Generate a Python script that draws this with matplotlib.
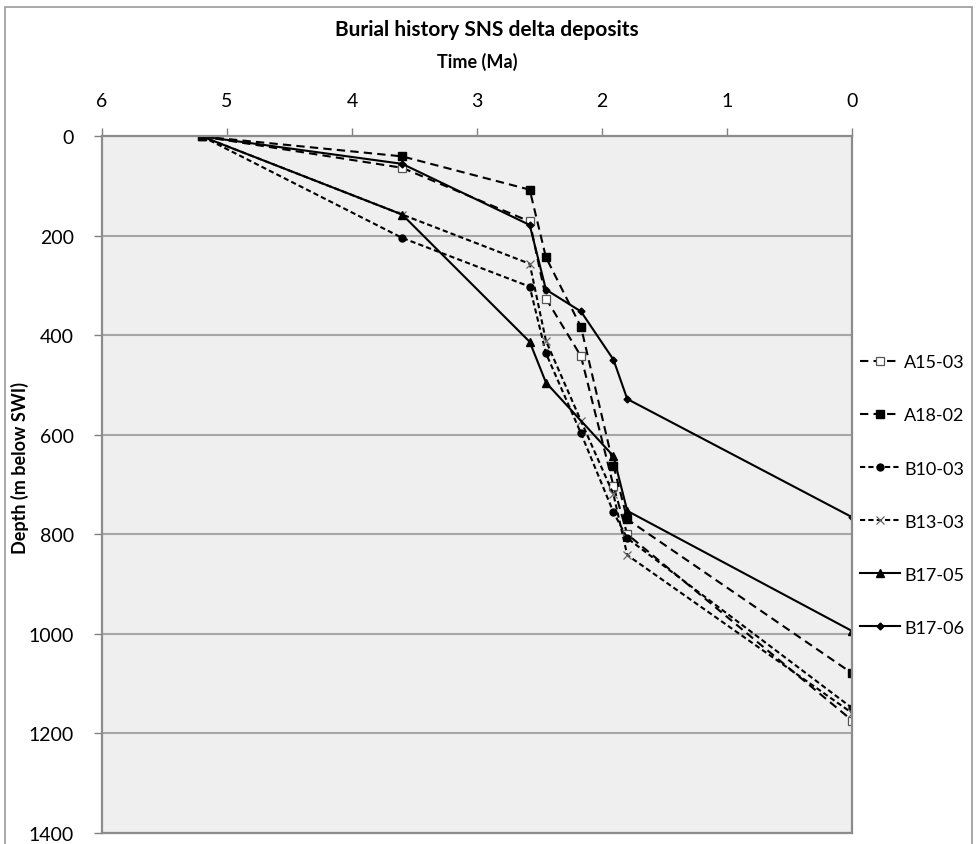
import matplotlib
matplotlib.use("Agg")
import matplotlib.pyplot as plt
from matplotlib.patches import Rectangle

plt.rcParams['font.family'] = ['Lato', 'DejaVu Sans']

# burial curves: age (Ma) vs depth (m below SWI)
a15_age = [5.2, 3.6, 2.58, 2.45, 2.17, 1.91, 1.8, 0.0]
a15_depth = [0, 63, 171, 326, 442, 703, 800, 1175]

a18_age = [5.2, 3.6, 2.58, 2.45, 2.17, 1.91, 1.8, 0.0]
a18_depth = [0, 40, 107, 243, 383, 662, 770, 1080]

b10_age = [5.2, 3.6, 2.58, 2.45, 2.17, 1.91, 1.8, 0.0]
b10_depth = [0, 204, 302, 436, 597, 756, 808, 1150]

b13_age = [5.2, 3.6, 2.58, 2.45, 2.17, 1.91, 1.8, 0.0]
b13_depth = [0, 157, 256, 411, 572, 720, 842, 1160]

b1705_age = [5.2, 3.6, 2.58, 2.45, 1.91, 1.8, 0.0]
b1705_depth = [0, 157, 413, 495, 643, 753, 995]

b1706_age = [5.2, 3.6, 2.58, 2.45, 2.17, 1.91, 1.8, 0.0]
b1706_depth = [0, 55, 178, 308, 352, 449, 528, 766]

fig = plt.figure(figsize=(9.76, 8.45), dpi=100)
ax = fig.add_axes([0.1045, 0.0136, 0.7688, 0.8237])
ax.set_facecolor('#efefef')

long_dash = (0, (4, 2.5))
short_dash = (0, (2.5, 1.5))
lw = 1.5

ax.plot(a15_age, a15_depth, color='black', lw=lw, ls=long_dash, marker='s', ms=5.5,
        mfc='white', mec='#555555', mew=0.9, label='A15-03')
ax.plot(a18_age, a18_depth, color='black', lw=lw, ls=long_dash, marker='s', ms=6,
        mfc='black', mec='black', label='A18-02')
ax.plot(b10_age, b10_depth, color='black', lw=lw, ls=short_dash, marker='o', ms=5,
        mfc='black', mec='black', label='B10-03')
ax.plot(b13_age, b13_depth, color='black', lw=lw, ls=short_dash, marker='x', ms=6,
        mec='#666666', mew=0.9, label='B13-03')
ax.plot(b1705_age, b1705_depth, color='black', lw=lw, ls='-', marker='^', ms=5.5,
        mfc='black', mec='black', label='B17-05')
ax.plot(b1706_age, b1706_depth, color='black', lw=lw, ls='-', marker='D', ms=3.5,
        mfc='black', mec='black', label='B17-06')

ax.set_xlim(6, 0)
ax.set_ylim(1400, 0)
ax.set_xticks(range(6, -1, -1))
ax.set_yticks(range(0, 1401, 200))
ax.xaxis.tick_top()
ax.xaxis.set_label_position('top')
ax.tick_params(axis='both', labelsize=14, length=6, width=1, color='#808080')
ax.tick_params(axis='x', pad=14)
ax.tick_params(axis='y', pad=14)
ax.grid(axis='y', color='#a6a6a6', lw=1.5)
ax.set_axisbelow(True)
for side in ['top', 'left', 'right', 'bottom']:
    ax.spines[side].set_color('#8c8c8c')
    ax.spines[side].set_linewidth(1.6)

ax.set_xlabel('Time (Ma)', fontsize=13, fontweight='bold', labelpad=18)
ax.set_ylabel('Depth (m below SWI)', fontsize=13, fontweight='bold')
ax.yaxis.set_label_coords(-0.097, 0.525)
fig.text(0.499, 0.964, 'Burial history SNS delta deposits', ha='center', va='center',
         fontsize=15, fontweight='bold')

fig.legend(loc='center left', bbox_to_anchor=(0.881, 0.413), frameon=False,
           fontsize=13, labelspacing=2.05, handlelength=2.2, handletextpad=0.25,
           borderaxespad=0, borderpad=0)

# outer chart border
fig.patches.append(Rectangle((0.005, -0.01), 0.991, 1.0, transform=fig.transFigure,
                             fill=False, edgecolor='#9a9a9a', lw=1.2))

fig.savefig('out.png', dpi=100)
